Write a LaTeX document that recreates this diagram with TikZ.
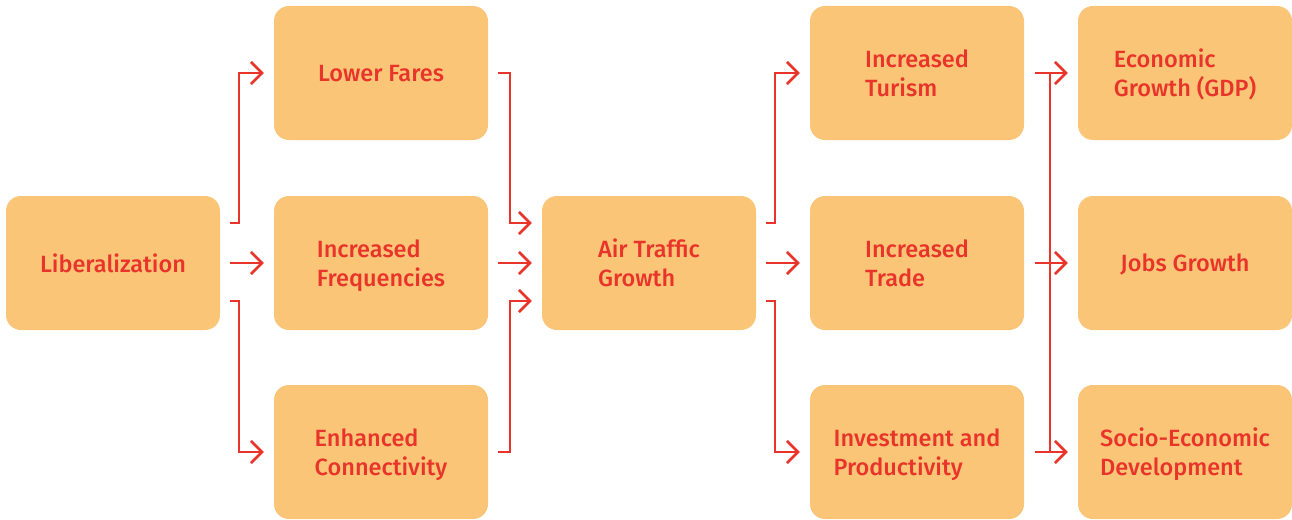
\documentclass[tikz,border=0pt]{standalone}
\usepackage{fontspec}
\setmainfont{Fira Sans}[UprightFont={* Medium}]
\usetikzlibrary{arrows.meta,calc}
\definecolor{boxfill}{HTML}{FAC576}
\definecolor{redtxt}{HTML}{E8342A}
\tikzset{
  box/.style={draw=none, fill=boxfill, rounded corners=15pt, minimum width=214pt, minimum height=134pt,
    text=redtxt, font=\fontsize{23.5}{29}\selectfont, align=left, inner sep=0pt, text depth=0pt},
  conn/.style={draw=redtxt, line width=2.6pt, -{Straight Barb[length=11pt,width=22pt,line width=2.6pt]}},
  plain/.style={draw=redtxt, line width=2.6pt}
}
\begin{document}
\begin{tikzpicture}[x=1pt,y=-1pt]
\useasboundingbox (0,0) rectangle (1292,519);
% nodes
\node[box] (lib) at (113,263) {Liberalization};
\node[box] (low) at (381,73) {Lower Fares};
\node[box] (freq) at (381,263) {Increased\\Frequencies};
\node[box] (conn) at (381,452) {Enhanced\\Connectivity};
\node[box] (air) at (649,263) {Air Traffic\\Growth};
\node[box] (tur) at (917,73) {Increased\\Turism};
\node[box] (trade) at (917,263) {Increased\\Trade};
\node[box] (inv) at (917,452) {Investment and\\Productivity};
\node[box] (gdp) at (1185,73) {Economic\\Growth (GDP)};
\node[box] (jobs) at (1185,263) {Jobs Growth};
\node[box] (soc) at (1185,452) {Socio-Economic\\Development};
% liberalization -> column 2
\draw[conn] ([xshift=10pt,yshift=40pt]lib.east) -| ([xshift=-35pt]low.west) -- ([xshift=-10pt]low.west);
\draw[conn] ([xshift=10pt]lib.east) -- ([xshift=-10pt]freq.west);
\draw[conn] ([xshift=10pt,yshift=-38pt]lib.east) -| ([xshift=-35pt]conn.west) -- ([xshift=-10pt]conn.west);
% column 2 -> air
\draw[conn] ([xshift=10pt]low.east) -| ([xshift=-32pt,yshift=40pt]air.west) -- ([xshift=-10pt,yshift=40pt]air.west);
\draw[conn] ([xshift=10pt]freq.east) -- ([xshift=-10pt]air.west);
\draw[conn] ([xshift=10pt]conn.east) -| ([xshift=-32pt,yshift=-38pt]air.west) -- ([xshift=-10pt,yshift=-38pt]air.west);
% air -> column 4
\draw[conn] ([xshift=10pt,yshift=40pt]air.east) -| ([xshift=-35pt]tur.west) -- ([xshift=-10pt]tur.west);
\draw[conn] ([xshift=10pt]air.east) -- ([xshift=-10pt]trade.west);
\draw[conn] ([xshift=10pt,yshift=-38pt]air.east) -| ([xshift=-35pt]inv.west) -- ([xshift=-10pt]inv.west);
% column 4 -> column 5
\coordinate (bt) at ([xshift=-28pt]gdp.west);
\coordinate (bb) at ([xshift=-28pt]soc.west);
\draw[plain] (bt) -- (bb);
\draw[conn] ([xshift=11pt]tur.east) -- ([xshift=-10pt]gdp.west);
\draw[conn] ([xshift=11pt]trade.east) -- ([xshift=-10pt]jobs.west);
\draw[conn] ([xshift=11pt]inv.east) -- ([xshift=-10pt]soc.west);
\end{tikzpicture}
\end{document}
